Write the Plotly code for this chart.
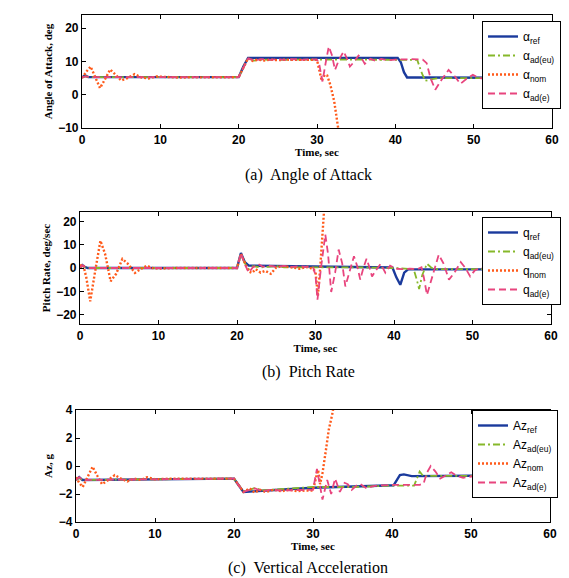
import plotly.graph_objects as go

# ---------------- Panel (a): Angle of Attack, deg ----------------
a_ref_t = [0, 0.4, 0.8, 20.0, 20.6, 21.2, 40.3, 40.7, 41.1, 41.5, 42.5, 60]
a_ref_v = [5.2, 5.8, 5.3, 5.3, 8.5, 11.1, 11.1, 9.8, 6.8, 5.2, 5.2, 5.1]

a_eu_t = [0, 0.5, 1, 20.0, 21.2, 22, 23, 24, 30, 35, 40, 42.8, 43.3, 43.8, 44.5, 45.5, 60]
a_eu_v = [5.2, 5.5, 5.3, 5.3, 10.9, 10.3, 10.6, 10.5, 10.6, 10.5, 10.6, 10.5, 7.0, 4.2, 4.6, 5.0, 5.0]

a_nom_t = [0, 0.5, 1.1, 1.7, 2.3, 2.9, 3.6, 4.3, 5.0, 5.8, 6.7, 7.6, 8.5, 9.5, 10.5, 12,
           20.0, 21.2, 21.8, 22.5, 23.3, 24, 25, 26, 27, 28, 29, 30.0,
           30.3, 30.6, 31.0, 31.3, 31.7, 32.2, 32.7, 33.2]
a_nom_v = [5.0, 6.8, 8.5, 5.5, 2.0, 4.5, 7.6, 6.0, 4.3, 5.0, 6.2, 5.2, 4.9, 5.5, 5.3, 5.2,
           5.3, 11.0, 10.2, 10.6, 10.3, 10.6, 10.4, 10.6, 10.5, 10.6, 10.5, 10.5,
           7.0, 4.2, 6.0, 5.8, 3.0, -2.0, -10, -16]

a_e_t = [0, 0.5, 1, 20.0, 21.2, 22, 23, 24, 25, 26, 27, 28, 29, 30.0,
         30.3, 30.7, 31.1, 31.5, 31.9, 32.3, 32.8, 33.4, 33.8, 34.2, 34.7, 35.3, 35.7, 36.1,
         36.8, 37.5, 38.2, 39, 40, 41, 42,
         43.5, 44.0, 44.5, 45.1, 45.9, 46.8, 47.6, 48.3, 49.1, 49.9, 50.7, 51.5, 53, 55, 60]
a_e_v = [5.2, 5.5, 5.3, 5.3, 10.9, 10.4, 10.7, 10.5, 10.7, 10.5, 10.7, 10.5, 10.7, 10.6,
         9.0, 4.0, 9.5, 14.5, 12.0, 7.5, 10.5, 13.0, 11.0, 8.5, 9.8, 11.8, 11.0, 9.3,
         10.8, 10.2, 10.8, 10.4, 10.6, 10.7, 10.7,
         10.6, 9.5, 5.0, 1.5, 4.5, 7.5, 5.5, 3.3, 4.8, 6.0, 5.0, 4.8, 5.0, 5.0, 5.0]

# ---------------- Panel (b): Pitch Rate, deg/sec ----------------
b_ref_t = [0, 0.3, 0.6, 1.0, 20.0, 20.5, 21.0, 21.5, 22, 30, 39.8, 40.3, 40.8, 41.3, 41.8, 50, 60]
b_ref_v = [0, 1.2, 0.5, 0, 0, 6.4, 2.5, 1.0, 1.0, 0.6, 0.2, -4.0, -7.2, -2.0, -0.6, -0.6, -0.5]

b_eu_t = [0, 0.3, 0.6, 1.0, 20.0, 20.5, 21.0, 21.5, 22, 23, 24, 25, 26, 30, 35, 40,
          42.5, 42.9, 43.2, 43.6, 44.2, 44.8, 45.5, 50, 60]
b_eu_v = [0, 1.0, 0.4, 0, 0, 6.2, 2.0, -0.5, 0.8, 0.3, 0.5, 0.8, 0.3, 0.4, 0.3, 0,
          -0.5, -5.0, -9.0, -3.0, 1.8, 0, -0.5, -0.5, -0.5]

b_nom_t = [0, 0.4, 0.8, 1.3, 1.9, 2.6, 3.2, 3.9, 4.6, 5.4, 6.2, 7.0, 7.7, 8.5, 9.2, 10, 12,
           20.0, 20.5, 21.0, 21.5, 21.9, 22.4, 23.0, 23.6, 24.3, 25, 26, 27, 28, 29, 29.7,
           30.0, 30.3, 30.6, 30.9, 31.2]
b_nom_v = [1.0, 1.5, -4, -14.3, -2, 11.7, 6, -5.7, -2.5, 3.9, 1.5, -2.1, -0.5, 1.0, 0, -0.3, 0,
           0, 6.0, 2.0, -1.5, -2.1, -0.5, -2.0, -1.2, -2.5, 0.3, 0.8, 0.3, -0.3, 0.5, -0.5,
           -1.5, -12, 0, 15, 30]

b_e_t = [0, 0.3, 0.6, 1.0,
         20.0, 20.5, 21.0, 21.5, 22.0, 22.7, 23.3, 24, 25, 26, 27, 28, 29, 29.7,
         30.0, 30.25, 30.7, 31.25, 31.6, 32.0, 32.5, 32.95, 33.4, 33.8, 34.3, 34.9, 35.3, 35.7,
         36.1, 36.5, 36.9, 37.2, 37.7, 38.3, 38.9, 39.5, 40.2,
         41, 42, 43, 43.5, 43.8, 44.2, 44.9, 45.7, 46.3, 47.0, 47.7, 48.5, 49.1, 49.7, 50.3, 51, 53, 60]
b_e_v = [0, 1.2, 0.5, 0,
         0, 6.4, 1.5, -2.0, 0.2, 1.7, 0.5, 1.0, 0.6, 0.9, 0.5, 0.8, 0.4, 0.2,
         -3, -13.6, 0, 14.3, 6, -10.3, -2, 7.9, 2, -7.9, -2, 5.0, 1, -5.0,
         0, 4.0, 0, -3.6, -1, 1.8, -2, 1.0, -0.3,
         -0.5, -0.3, -0.5, 0.3, -4, -11.5, -3, 5.7, 2, -5.0, -2, 2.5, 0, -3.6, -1, 0, 0, 0]

# ---------------- Panel (c): Az, g ----------------
c_ref_t = [0, 0.4, 0.8, 20.0, 20.5, 21.2, 22, 30, 40.2, 40.6, 41.0, 41.5, 42.5, 50, 60]
c_ref_v = [-1.0, -0.8, -1.0, -0.9, -1.3, -1.85, -1.82, -1.55, -1.38, -1.0, -0.65, -0.6, -0.72, -0.7, -0.7]

c_eu_t = [0, 0.4, 0.8, 20.0, 20.5, 21.2, 22, 22.7, 23.5, 30, 35, 40, 42.8, 43.1, 43.5, 44.0, 45, 50, 60]
c_eu_v = [-1.0, -0.85, -1.0, -0.9, -1.3, -1.8, -1.7, -1.55, -1.75, -1.5, -1.5, -1.4, -1.4, -0.9,
          -0.4, -0.75, -0.7, -0.7, -0.7]

c_nom_t = [0, 0.4, 0.85, 1.5, 2.1, 2.7, 3.3, 4.1, 4.9, 5.7, 6.5, 7.3, 8.2, 9, 10, 12,
           20.0, 20.5, 21.2, 22, 22.6, 23.3, 24, 25, 26, 27, 28, 29, 30.0,
           30.4, 30.65, 30.9, 31.2, 31.6, 32.0, 32.4, 32.8, 33.2]
c_nom_v = [-0.8, -1.2, -1.5, -0.8, -0.05, -0.7, -1.3, -1.0, -0.65, -0.9, -1.1, -0.9, -1.0, -0.8, -0.95, -0.9,
           -0.9, -1.3, -1.85, -1.6, -1.9, -1.7, -1.85, -1.7, -1.8, -1.7, -1.8, -1.75, -1.75,
           -0.8, -0.3, -1.3, -0.5, 1.0, 2.6, 3.6, 4.6, 6.0]

c_e_t = [0, 0.4, 0.8,
         20.0, 20.5, 21.2, 22, 22.7, 23.5, 24.5, 26, 28,
         30.0, 30.5, 31.2, 31.8, 32.3, 32.8, 33.4, 34.0, 34.4, 34.9, 35.5, 36.0, 36.8, 37.5, 38.2,
         40, 42, 43.5, 44.0, 44.4, 44.9, 45.5, 46.1, 46.8, 47.5, 48.2, 49, 50, 52, 60]
c_e_v = [-1.0, -0.8, -1.0,
         -0.9, -1.3, -1.85, -1.7, -1.6, -1.8, -1.7, -1.75, -1.7,
         -1.7, -0.2, -2.4, -1.0, -2.0, -0.9, -1.85, -1.2, -1.3, -1.7, -1.4, -1.3, -1.6, -1.45, -1.4,
         -1.35, -1.35, -1.35, -1.25, -0.5, 0.0, -0.4, -0.9, -0.7, -0.45, -0.7, -0.85, -0.75, -0.7, -0.7]

x_ticks = [0, 10, 20, 30, 40, 50, 60]
a_yticks = [-10, 0, 10, 20]
b_yticks = [-20, -10, 0, 10, 20]
c_yticks = [-4, -2, 0, 2, 4]

captions = ["(a)  Angle of Attack", "(b)  Pitch Rate", "(c)  Vertical Acceleration"]
y_titles = ["Angle of Attack, deg", "Pitch Rate, deg/sec", "Az, g"]

# ---------------- geometry (window pixels; page body has an 8px margin) ----------------
WIN_W, WIN_H, OFF = 569, 578, 8
W, H = WIN_W - OFF, WIN_H - OFF


def px(xw):
    return (xw - OFF) / W


def py(yw):
    return 1 - (yw - OFF) / H


C_REF = "#1a3a9c"
C_EU = "#86b82a"
C_NOM = "#ff5a1a"
C_E = "#e8457e"

styles = [
    dict(color=C_REF, width=2.4, dash="solid"),
    dict(color=C_EU, width=1.8, dash="7px,3px,2px,3px"),
    dict(color=C_NOM, width=2.4, dash="2px,2px"),
    dict(color=C_E, width=1.8, dash="7px,4px"),
]

panels = [
    dict(series=[(a_ref_t, a_ref_v), (a_eu_t, a_eu_v), (a_nom_t, a_nom_v), (a_e_t, a_e_v)],
         sym="α", yr=[-10, 24], yt=a_yticks,
         xd=[82, 552], yd=[15, 128], leg=(482, 21)),
    dict(series=[(b_ref_t, b_ref_v), (b_eu_t, b_eu_v), (b_nom_t, b_nom_v), (b_e_t, b_e_v)],
         sym="q", yr=[-24, 24], yt=b_yticks,
         xd=[80, 551], yd=[212, 324], leg=(482, 217)),
    dict(series=[(c_ref_t, c_ref_v), (c_eu_t, c_eu_v), (c_nom_t, c_nom_v), (c_e_t, c_e_v)],
         sym="Az", yr=[-4, 4], yt=c_yticks,
         xd=[76, 550], yd=[410, 522], leg=(472, 410)),
]
subs = ["ref", "ad(eu)", "nom", "ad(e)"]

fig = go.Figure()
layout = dict(width=W, height=H, margin=dict(l=0, r=0, t=0, b=0, autoexpand=False),
              paper_bgcolor="white", plot_bgcolor="white", showlegend=True,
              annotations=[])

tick_font = dict(family="Liberation Sans, Arial", size=12, color="black", weight="bold")
title_font = dict(family="Liberation Serif, Times New Roman", size=11, color="black", weight="bold")

for i, p in enumerate(panels):
    n = i + 1
    xa = "x" if n == 1 else f"x{n}"
    ya = "y" if n == 1 else f"y{n}"
    lg = "legend" if n == 1 else f"legend{n}"
    for k, (t, v) in enumerate(p["series"]):
        fig.add_trace(go.Scatter(
            x=t, y=v, mode="lines", xaxis=xa, yaxis=ya, legend=lg,
            name=f"{p['sym']}<sub>{subs[k]}</sub>",
            line=dict(shape="linear", **styles[k]),
            hoverinfo="skip"))
    xkey = "xaxis" if n == 1 else f"xaxis{n}"
    ykey = "yaxis" if n == 1 else f"yaxis{n}"
    axis_common = dict(showline=True, linecolor="black", linewidth=1.2, mirror="ticks",
                       ticks="inside", ticklen=4, tickwidth=1, tickcolor="black",
                       showgrid=False, zeroline=False, tickfont=tick_font, automargin=False)
    layout[xkey] = dict(domain=[px(p["xd"][0]), px(p["xd"][1])], range=[0, 60],
                        tickvals=x_ticks, anchor=ya,
                        title=dict(text="Time, sec", font=title_font, standoff=0),
                        **axis_common)
    layout[ykey] = dict(domain=[py(p["yd"][1]), py(p["yd"][0])], range=p["yr"],
                        tickvals=p["yt"], anchor=xa,
                        title=dict(text=y_titles[i], font=title_font, standoff=3),
                        **axis_common)
    layout[lg] = dict(x=px(p["leg"][0]), y=py(p["leg"][1]), xanchor="left", yanchor="top",
                      xref="paper", yref="paper",
                      bgcolor="white", bordercolor="black", borderwidth=1,
                      font=dict(family="Liberation Sans, Arial", size=12, color="black"),
                      itemwidth=30, tracegroupgap=0)
    cap_y = [175, 372, 568][i]
    layout["annotations"].append(dict(
        text=captions[i], x=px(308), y=py(cap_y), xref="paper", yref="paper",
        xanchor="center", yanchor="middle", showarrow=False,
        font=dict(family="Liberation Serif, Times New Roman", size=16, color="black")))

fig.update_layout(**layout)
fig.write_html("out.html")
